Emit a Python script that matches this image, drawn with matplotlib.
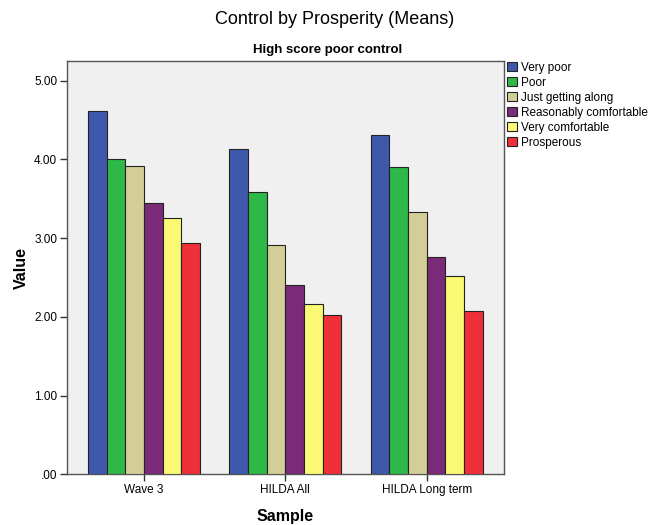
import numpy as np
import matplotlib.pyplot as plt
from matplotlib.patches import Patch

plt.rcParams['font.family'] = ['Liberation Sans', 'DejaVu Sans']

# ---- data ----
samples = ['Wave 3', 'HILDA All', 'HILDA Long term']
groups = ['Very poor', 'Poor', 'Just getting along', 'Reasonably comfortable',
          'Very comfortable', 'Prosperous']
very_poor = [4.61, 4.13, 4.31]
poor = [4.00, 3.58, 3.90]
just_getting_along = [3.91, 2.91, 3.33]
reasonably_comfortable = [3.44, 2.40, 2.76]
very_comfortable = [3.25, 2.16, 2.52]
prosperous = [2.94, 2.03, 2.08]
yticks = [0, 1, 2, 3, 4, 5]
ytick_labels = ['.00', '1.00', '2.00', '3.00', '4.00', '5.00']

series = [very_poor, poor, just_getting_along, reasonably_comfortable,
          very_comfortable, prosperous]
colors = ['#3E58AC', '#2EB848', '#D3CE97', '#7B2A7A', '#FBF873', '#EF3038']

fig = plt.figure(figsize=(6.49, 5.25), dpi=100)
ax = fig.add_axes([0.1032, 0.0964, 0.6733, 0.788])
ax.set_facecolor('#F0F0F0')

x = np.arange(len(samples))
w = 0.132
for i, (vals, col) in enumerate(zip(series, colors)):
    ax.bar(x + (i - 2.5) * w, vals, width=w, color=col,
           edgecolor='#222222', linewidth=0.8, zorder=3)

ax.set_xlim(-0.545, 2.547)
ax.set_ylim(0, 5.253)
ax.set_xticks(x)
ax.set_xticklabels(samples, fontsize=8.5)
ax.set_yticks(yticks)
ax.set_yticklabels(ytick_labels, fontsize=8.5)
ax.tick_params(axis='both', direction='out', length=5, width=1, color='#333333', pad=2)

for s in ax.spines.values():
    s.set_color('#555555')
    s.set_linewidth(1)

ax.set_xlabel('Sample', fontsize=11.5, fontweight='bold', labelpad=9)
ax.set_ylabel('Value', fontsize=11.5, fontweight='bold', labelpad=4)

fig.text(0.515, 0.963, 'Control by Prosperity (Means)', ha='center', va='center',
         fontsize=13)
fig.text(0.505, 0.905, 'High score poor control', ha='center', va='center',
         fontsize=9.5, fontweight='bold')

handles = [Patch(facecolor=c, edgecolor='#222222', linewidth=0.8) for c in colors]
fig.legend(handles, groups, loc='upper left', bbox_to_anchor=(507 / 649, 1 - 62 / 525),
           frameon=False, fontsize=8.5, borderpad=0, borderaxespad=0,
           handlelength=0.85, handleheight=0.8, handletextpad=0.3, labelspacing=0.25)

fig.savefig('out.png', dpi=100, facecolor='white')
